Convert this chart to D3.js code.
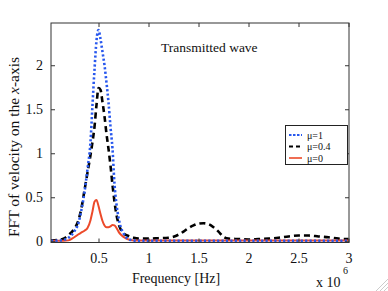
<!DOCTYPE html>
<html>
<head>
<meta charset="utf-8">
<script src="https://cdn.jsdelivr.net/npm/d3@7"></script>
<style>
  body { margin: 0; background: #fff; }
  svg { display: block; }
  text { font-family: "Liberation Serif", "Times New Roman", serif; fill: #111; }
</style>
</head>
<body>
<div id="chart"></div>
<script>
// frequency grid, in units of 10^6 Hz
var freq = [0.025, 0.1, 0.15, 0.2, 0.25, 0.3, 0.33, 0.36, 0.39, 0.42, 0.44, 0.46, 0.48, 0.5,
  0.52, 0.54, 0.56, 0.58, 0.6, 0.62, 0.64, 0.66, 0.68, 0.7, 0.72, 0.75, 0.8, 0.85, 0.9,
  1.0, 1.1, 1.2, 1.25, 1.3, 1.35, 1.4, 1.45, 1.5, 1.55, 1.6, 1.65, 1.7, 1.75, 1.8, 1.9,
  2.0, 2.1, 2.2, 2.3, 2.4, 2.5, 2.6, 2.7, 2.8, 2.9, 3.0];

// mu = 1
var mu1 = [0.005, 0.008, 0.015, 0.04, 0.1, 0.21, 0.36, 0.56, 0.82, 1.13, 1.55, 1.95, 2.28, 2.40,
  2.3, 2.15, 2.0, 1.8, 1.58, 1.3, 1.05, 0.65, 0.42, 0.27, 0.17, 0.09, 0.025, 0.01, 0.006,
  0.005, 0.005, 0.005, 0.005, 0.005, 0.005, 0.005, 0.005, 0.005, 0.005, 0.005, 0.005, 0.005, 0.005, 0.005, 0.005,
  0.005, 0.005, 0.005, 0.005, 0.005, 0.005, 0.005, 0.005, 0.005, 0.005, 0.005];

// mu = 0.4
var mu04 = [0.01, 0.015, 0.03, 0.07, 0.13, 0.24, 0.38, 0.58, 0.78, 0.98, 1.13, 1.3, 1.55, 1.74,
  1.72, 1.58, 1.42, 1.22, 1.05, 0.86, 0.64, 0.45, 0.3, 0.2, 0.14, 0.09, 0.06, 0.04, 0.03,
  0.03, 0.035, 0.04, 0.05, 0.075, 0.11, 0.15, 0.18, 0.2, 0.205, 0.195, 0.16, 0.11, 0.05, 0.03, 0.025,
  0.02, 0.025, 0.03, 0.04, 0.055, 0.065, 0.065, 0.055, 0.045, 0.03, 0.025];

// mu = 0
var mu0 = [0.005, 0.005, 0.005, 0.01, 0.04, 0.08, 0.1, 0.12, 0.15, 0.24, 0.34, 0.45, 0.47, 0.4,
  0.31, 0.23, 0.18, 0.16, 0.16, 0.17, 0.185, 0.18, 0.15, 0.11, 0.08, 0.05, 0.02, 0.01, 0.008,
  0.008, 0.008, 0.008, 0.008, 0.008, 0.008, 0.008, 0.008, 0.008, 0.008, 0.008, 0.008, 0.008, 0.008, 0.008, 0.008,
  0.008, 0.008, 0.008, 0.008, 0.008, 0.008, 0.008, 0.008, 0.008, 0.008, 0.008];

var xTicks = [0.5, 1, 1.5, 2, 2.5, 3];
var yTicks = [0, 0.5, 1, 1.5, 2];
var legendLabels = ["\u03bc=1", "\u03bc=0.4", "\u03bc=0"];

var W = 388, H = 291;
var pL = 51, pR = 349, pT = 23, pB = 242.5;

var svg = d3.select("#chart").append("svg")
  .attr("width", W)
  .attr("height", H);

var x = d3.scaleLinear().domain([0.025, 3.005]).range([pL, pR]);
var y = d3.scaleLinear().domain([-0.014, 2.48]).range([pB, pT]);

// series styles
var series = [
  { vals: mu04, color: "#000", width: 2.6, dash: "6,4" },
  { vals: mu0, color: "#ec4a2a", width: 2, dash: null },
  { vals: mu1, color: "#2858ee", width: 2.6, dash: "2.2,2.2" }
];

var line = d3.line()
  .x(function(d) { return x(d[0]); })
  .y(function(d) { return y(d[1]); })
  .curve(d3.curveMonotoneX);

var plot = svg.append("g");
plot.append("clipPath").attr("id", "clip")
  .append("rect").attr("x", pL).attr("y", pT)
  .attr("width", pR - pL).attr("height", pB - pT);

series.forEach(function(s) {
  plot.append("path")
    .datum(freq.map(function(f, i) { return [f, s.vals[i]]; }))
    .attr("d", line)
    .attr("fill", "none")
    .attr("stroke", s.color)
    .attr("stroke-width", s.width)
    .attr("stroke-dasharray", s.dash)
    .attr("clip-path", "url(#clip)");
});

// axes: inward ticks on all four sides
var axisColor = "#333";
svg.append("g").attr("transform", "translate(0," + pB + ")")
  .call(d3.axisBottom(x).tickValues(xTicks).tickSizeInner(-4).tickSizeOuter(0).tickPadding(11)
    .tickFormat(d3.format("")))
  .call(function(g) {
    g.select(".domain").remove();
    g.selectAll("line").attr("stroke", axisColor);
    g.selectAll("text").attr("font-size", 14).attr("fill", "#111");
  });
svg.append("g").attr("transform", "translate(0," + pT + ")")
  .call(d3.axisTop(x).tickValues(xTicks).tickSizeInner(-4).tickSizeOuter(0).tickFormat(""))
  .call(function(g) {
    g.select(".domain").remove();
    g.selectAll("line").attr("stroke", axisColor);
  });
svg.append("g").attr("transform", "translate(" + pL + ",0)")
  .call(d3.axisLeft(y).tickValues(yTicks).tickSizeInner(-4).tickSizeOuter(0).tickPadding(8)
    .tickFormat(d3.format("")))
  .call(function(g) {
    g.select(".domain").remove();
    g.selectAll("line").attr("stroke", axisColor);
    g.selectAll("text").attr("font-size", 14).attr("fill", "#111");
  });
svg.append("g").attr("transform", "translate(" + pR + ",0)")
  .call(d3.axisRight(y).tickValues(yTicks).tickSizeInner(-4).tickSizeOuter(0).tickFormat(""))
  .call(function(g) {
    g.select(".domain").remove();
    g.selectAll("line").attr("stroke", axisColor);
  });

svg.append("rect")
  .attr("x", pL).attr("y", pT)
  .attr("width", pR - pL).attr("height", pB - pT)
  .attr("fill", "none").attr("stroke", axisColor).attr("stroke-width", 1);

// title inside plot
svg.append("text")
  .attr("x", 161).attr("y", 52)
  .attr("font-size", 13.5)
  .text("Transmitted wave");

// axis labels
svg.append("text")
  .attr("x", 176).attr("y", 283)
  .attr("text-anchor", "middle")
  .attr("font-size", 14)
  .text("Frequency [Hz]");

var yl = svg.append("text")
  .attr("transform", "translate(19,147) rotate(-90)")
  .attr("text-anchor", "middle")
  .attr("font-size", 15.5);
yl.append("tspan").text("FFT of velocity on the ");
yl.append("tspan").attr("font-style", "italic").text("x");
yl.append("tspan").text("-axis");

svg.append("text")
  .attr("x", 316).attr("y", 287)
  .attr("font-size", 14)
  .text("x 10");
svg.append("text")
  .attr("x", 343).attr("y", 274)
  .attr("font-size", 10)
  .text("6");

// legend
var legend = svg.append("g");
legend.append("rect")
  .attr("x", 285.5).attr("y", 125.5)
  .attr("width", 62).attr("height", 39)
  .attr("fill", "#fff").attr("stroke", "#222").attr("stroke-width", 1);

var legendStyles = [series[2], series[0], series[1]];
legendLabels.forEach(function(lab, i) {
  var ly = 135 + i * 11.5;
  var s = legendStyles[i];
  legend.append("line")
    .attr("x1", 289).attr("x2", 302)
    .attr("y1", ly).attr("y2", ly)
    .attr("stroke", s.color)
    .attr("stroke-width", i === 2 ? 1.6 : 2)
    .attr("stroke-dasharray", i === 0 ? "2.5,1.5" : (i === 1 ? "4,3" : null));
  legend.append("text")
    .attr("x", 307).attr("y", ly + 3.5)
    .attr("font-size", 10)
    .text(lab);
});

// window resize grip in the corner
[0, 4, 8].forEach(function(o) {
  svg.append("line")
    .attr("x1", 376 + o).attr("y1", 291)
    .attr("x2", 388).attr("y2", 279 + o)
    .attr("stroke", "#ccc").attr("stroke-width", 1);
});
</script>
</body>
</html>
